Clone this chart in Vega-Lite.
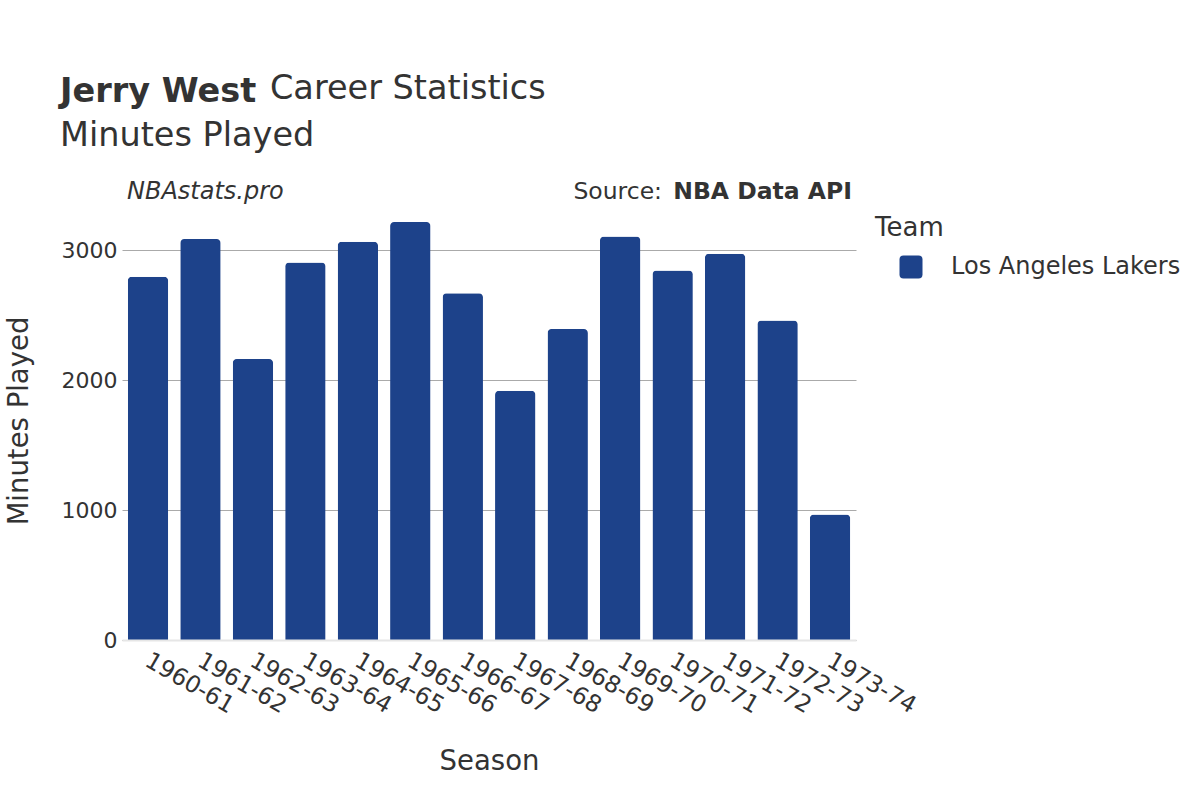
{
  "$schema": "https://vega.github.io/schema/vega-lite/v6.json",
  "width": 734,
  "height": 439,
  "autosize": {"type": "none"},
  "padding": {"left": 122, "top": 201, "right": 344, "bottom": 160},
  "background": "white",
  "title": {
    "text": "Jerry West",
    "subtitle": "Minutes Played",
    "anchor": "start",
    "frame": "group",
    "dx": -62,
    "dy": 131,
    "offset": 50,
    "font": "DejaVu Sans",
    "fontSize": 33.5,
    "fontWeight": "bold",
    "color": "#333333",
    "subtitleFont": "DejaVu Sans",
    "subtitleFontSize": 33.5,
    "subtitleColor": "#333333",
    "subtitlePadding": 10
  },
  "config": {
    "view": {"stroke": null},
    "font": "DejaVu Sans"
  },
  "layer": [
    {
      "data": {
        "values": [
          {"Season": "1960-61", "Minutes": 2797, "Team": "Los Angeles Lakers"},
          {"Season": "1961-62", "Minutes": 3087, "Team": "Los Angeles Lakers"},
          {"Season": "1962-63", "Minutes": 2163, "Team": "Los Angeles Lakers"},
          {"Season": "1963-64", "Minutes": 2906, "Team": "Los Angeles Lakers"},
          {"Season": "1964-65", "Minutes": 3066, "Team": "Los Angeles Lakers"},
          {"Season": "1965-66", "Minutes": 3218, "Team": "Los Angeles Lakers"},
          {"Season": "1966-67", "Minutes": 2670, "Team": "Los Angeles Lakers"},
          {"Season": "1967-68", "Minutes": 1919, "Team": "Los Angeles Lakers"},
          {"Season": "1968-69", "Minutes": 2394, "Team": "Los Angeles Lakers"},
          {"Season": "1969-70", "Minutes": 3106, "Team": "Los Angeles Lakers"},
          {"Season": "1970-71", "Minutes": 2845, "Team": "Los Angeles Lakers"},
          {"Season": "1971-72", "Minutes": 2973, "Team": "Los Angeles Lakers"},
          {"Season": "1972-73", "Minutes": 2460, "Team": "Los Angeles Lakers"},
          {"Season": "1973-74", "Minutes": 967, "Team": "Los Angeles Lakers"}
        ]
      },
      "mark": {"type": "bar", "cornerRadiusEnd": 4},
      "encoding": {
        "x": {
          "field": "Season",
          "type": "nominal",
          "sort": null,
          "scale": {"paddingInner": 0.23, "paddingOuter": 0.11},
          "axis": {
            "title": "Season",
            "labelAngle": 30,
            "labelAlign": "left",
            "labelBaseline": "top",
            "labelFontSize": 23.5,
            "labelColor": "#333333",
            "labelPadding": 8,
            "labelOffset": 5,
            "titleFontSize": 27.5,
            "titleFontWeight": "normal",
            "titleColor": "#333333",
            "titlePadding": 30,
            "ticks": false,
            "grid": false,
            "domainColor": "#e6e6e6",
            "domainWidth": 2,
            "zindex": 1
          }
        },
        "y": {
          "field": "Minutes",
          "type": "quantitative",
          "scale": {"domain": [0, 3380], "nice": false},
          "axis": {
            "title": "Minutes Played",
            "values": [0, 1000, 2000, 3000],
            "format": "d",
            "grid": true,
            "gridColor": "#aaaaaa",
            "gridWidth": 1,
            "domain": false,
            "ticks": false,
            "labelFontSize": 22,
            "labelColor": "#333333",
            "labelPadding": 5,
            "titleFontSize": 27.5,
            "titleFontWeight": "normal",
            "titleColor": "#333333",
            "titlePadding": 28
          }
        },
        "color": {
          "field": "Team",
          "type": "nominal",
          "scale": {"range": ["#1d428a"]},
          "legend": {
            "title": "Team",
            "orient": "none",
            "legendX": 753,
            "legendY": 14,
            "padding": 0,
            "titleFontSize": 26,
            "titleFontWeight": "normal",
            "titleColor": "#333333",
            "titlePadding": 14,
            "labelFontSize": 24,
            "labelColor": "#333333",
            "labelLimit": 400,
            "labelOffset": 28,
            "symbolOffset": 24,
            "symbolSize": 529,
            "symbolStrokeWidth": 0,
            "symbolType": "M -1 -0.65 Q -1 -1 -0.65 -1 L 0.65 -1 Q 1 -1 1 -0.65 L 1 0.65 Q 1 1 0.65 1 L -0.65 1 Q -1 1 -1 0.65 Z"
          }
        }
      }
    },
    {
      "data": {"values": [{"label": "Career Statistics"}]},
      "mark": {"type": "text", "align": "left", "baseline": "alphabetic", "fontSize": 33.5, "color": "#333333", "dx": 122, "dy": -102},
      "encoding": {
        "x": {"datum": "1960-61", "type": "nominal"},
        "y": {"datum": 3380, "type": "quantitative"},
        "text": {"field": "label", "type": "nominal"}
      }
    },
    {
      "data": {"values": [{"label": "NBAstats.pro"}]},
      "mark": {"type": "text", "align": "left", "baseline": "alphabetic", "fontSize": 24, "fontStyle": "italic", "color": "#333333", "dx": -21, "dy": -2},
      "encoding": {
        "x": {"datum": "1960-61", "type": "nominal"},
        "y": {"datum": 3380, "type": "quantitative"},
        "text": {"field": "label", "type": "nominal"}
      }
    },
    {
      "data": {"values": [{"label": "NBA Data API"}]},
      "mark": {"type": "text", "align": "right", "baseline": "alphabetic", "fontSize": 23.5, "fontWeight": "bold", "color": "#333333", "dx": 22, "dy": -2},
      "encoding": {
        "x": {"datum": "1973-74", "type": "nominal"},
        "y": {"datum": 3380, "type": "quantitative"},
        "text": {"field": "label", "type": "nominal"}
      }
    },
    {
      "data": {"values": [{"label": "Source:"}]},
      "mark": {"type": "text", "align": "right", "baseline": "alphabetic", "fontSize": 23.5, "color": "#333333", "dx": -168, "dy": -2},
      "encoding": {
        "x": {"datum": "1973-74", "type": "nominal"},
        "y": {"datum": 3380, "type": "quantitative"},
        "text": {"field": "label", "type": "nominal"}
      }
    }
  ]
}
